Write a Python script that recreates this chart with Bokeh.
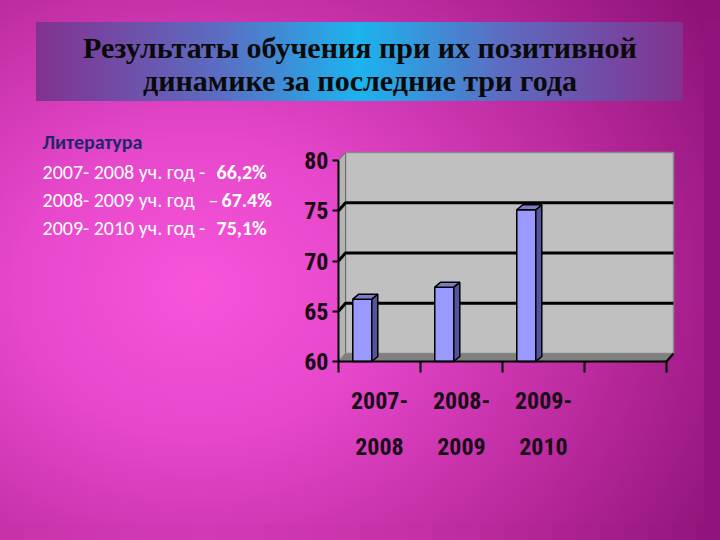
from bokeh.plotting import figure
from bokeh.models import Range1d, LinearAxis, FixedTicker, Label, ColumnDataSource
from bokeh.embed import file_html
from bokeh.resources import INLINE

# ---------------- data ----------------
title_lines = ["Результаты обучения при их позитивной", "динамике за последние три года"]
subject = "Литература"
text_years = ["2007- 2008 уч. год -", "2008- 2009 уч. год", "2009- 2010 уч. год -"]
text_dashes = ["", "–", ""]
text_values = ["66,2%", "67.4%", "75,1%"]
period_line1 = ["2007-", "2008-", "2009-"]
period_line2 = ["2008", "2009", "2010"]
scores = [66.2, 67.4, 75.1]
y_ticks = [60, 65, 70, 75, 80]
grid_levels = [65, 70, 75]
n_slots = 4
y_min, y_max = 60, 80

# ---------------- layout (canvas px) ----------------
W, H = 704, 524
AX_LEFT = 338
AX_BOTTOM = 361
AX_TOP = 160
SLOT = 82.0
DEPTH_PX_X, DEPTH_PX_Y = 7, 8
BAR_DEPTH_PX_X, BAR_DEPTH_PX_Y = 6, 5
PPY = (AX_BOTTOM - AX_TOP) / (y_max - y_min)

def dx(px):
    return (px - AX_LEFT) / SLOT

def dy(py):
    return y_min + (AX_BOTTOM - py) / PPY

x_range = Range1d(dx(0), dx(W))
y_range = Range1d(dy(H), dy(0))

DX = DEPTH_PX_X / SLOT
DY = DEPTH_PX_Y / PPY
BDX = BAR_DEPTH_PX_X / SLOT
BDY = BAR_DEPTH_PX_Y / PPY

# ---------------- background (CSS) ----------------
GC = (0.28, 0.55)
GR = (0.85, 0.95)
GSTOPS = [(0.0, "#f754da"), (0.30, "#e647cb"), (0.68, "#bb2a9e"), (1.0, "#8e1379")]

def grad_color(px, py):
    r = (((px / W - GC[0]) / GR[0]) ** 2 + ((py / H - GC[1]) / GR[1]) ** 2) ** 0.5
    if r >= GSTOPS[-1][0]:
        return GSTOPS[-1][1]
    for (t0, c0), (t1, c1) in zip(GSTOPS[:-1], GSTOPS[1:]):
        if t0 <= r <= t1:
            f = (r - t0) / (t1 - t0)
            a = [int(c0[i:i + 2], 16) for i in (1, 3, 5)]
            b = [int(c1[i:i + 2], 16) for i in (1, 3, 5)]
            return "#" + "".join(f"{round(x + (y - x) * f):02x}" for x, y in zip(a, b))
    return GSTOPS[0][1]

bg_css = (
    "linear-gradient(to right, #83318f 0%, #5c6cc2 28%, #1cb3ee 50%, #5c6cc2 72%, #83318f 100%) "
    "36px 22px / 647px 79px no-repeat, "
    f"radial-gradient(ellipse {GR[0]*100:.0f}% {GR[1]*100:.0f}% at {GC[0]*100:.0f}% {GC[1]*100:.0f}%, "
    + ", ".join(f"{c} {t*100:.0f}%" for t, c in GSTOPS) + ")"
)
STEP = 24
shadows = []
for k in range(0, 720 // STEP + 1):
    shadows.append(f"{(k + 1) * STEP - W}px 20px 0 0 {grad_color(k * STEP + STEP / 2, H + 8)}")
for k in range(0, 540 // STEP + 1):
    shadows.append(f"20px {(k + 1) * STEP - H}px 0 0 {grad_color(W + 8, k * STEP + STEP / 2)}")

p = figure(width=W, height=H, x_range=x_range, y_range=y_range,
           x_axis_type=None, y_axis_type=None,
           output_backend="svg", toolbar_location=None,
           min_border=0,
           styles={"background": bg_css, "box-shadow": ", ".join(shadows)})
p.background_fill_alpha = 0
p.border_fill_alpha = 0
p.outline_line_color = None

# ---------------- 3D chart walls ----------------
p.quad(left=DX, right=n_slots + DX, bottom=y_min + DY, top=y_max + DY,
       fill_color="#c0c0c0", line_color="#8a8a8a", line_width=1.5)
p.patch(x=[0, DX, DX, 0], y=[y_min, y_min + DY, y_max + DY, y_max],
        fill_color="#b4b4b4", line_color="#6a6a6a", line_width=1)
p.patch(x=[0, n_slots, n_slots + DX, DX], y=[y_min, y_min, y_min + DY, y_min + DY],
        fill_color="#808080", line_color=None)
p.line(x=[n_slots, n_slots + DX], y=[y_min, y_min + DY], line_color="black", line_width=2)

gx = [[0, DX, n_slots + DX] for _ in grid_levels]
gy = [[v, v + DY, v + DY] for v in grid_levels]
p.multi_line(xs=gx, ys=gy, line_color="black", line_width=3)

# bars
centers = [i + 0.29 for i in range(len(scores))]
bw = 0.232
src = ColumnDataSource(dict(x=centers, top=scores))
p.vbar(x="x", top="top", bottom=y_min, width=bw, source=src,
       fill_color="#9999ff", line_color="black", line_width=1.5)
side_xs, side_ys, top_xs, top_ys = [], [], [], []
for c, v in zip(centers, scores):
    l, r = c - bw / 2, c + bw / 2
    side_xs.append([r, r + BDX, r + BDX, r])
    side_ys.append([y_min, y_min + BDY, v + BDY, v])
    top_xs.append([l, r, r + BDX, l + BDX])
    top_ys.append([v, v, v + BDY, v + BDY])
p.patches(xs=side_xs, ys=side_ys, fill_color="#54549c", line_color="black", line_width=1.5)
p.patches(xs=top_xs, ys=top_ys, fill_color="#7c7cc8", line_color="black", line_width=1.5)

# ---------------- axes ----------------
AX_FONT = "'Roboto Condensed', 'Liberation Sans', sans-serif"
AX_SIZE = "24px"
LABEL_COLOR = "#1a0a16"

yaxis = LinearAxis(ticker=FixedTicker(ticks=y_ticks), bounds=(y_min, y_max),
                   fixed_location=0,
                   axis_line_color="black", axis_line_width=2,
                   major_tick_out=6, major_tick_in=0, major_tick_line_width=2,
                   major_tick_line_color="black", minor_tick_line_color=None,
                   major_label_text_font=AX_FONT, major_label_text_font_size=AX_SIZE,
                   major_label_text_font_style="bold", major_label_text_color=LABEL_COLOR,
                   major_label_standoff=4)
p.add_layout(yaxis, "left")

mids = [i + 0.5 for i in range(len(period_line1))]
xaxis1 = LinearAxis(ticker=FixedTicker(ticks=mids, minor_ticks=list(range(n_slots + 1))),
                    bounds=(0, n_slots), fixed_location=y_min,
                    major_label_overrides={m: t for m, t in zip(mids, period_line1)},
                    axis_line_color="black", axis_line_width=2,
                    major_tick_line_color=None, major_tick_out=0, major_tick_in=0,
                    minor_tick_out=11, minor_tick_in=0, minor_tick_line_width=2,
                    minor_tick_line_color="black",
                    major_label_text_font=AX_FONT, major_label_text_font_size=AX_SIZE,
                    major_label_text_font_style="bold", major_label_text_color=LABEL_COLOR,
                    major_label_standoff=19)
p.add_layout(xaxis1, "below")

xaxis2 = LinearAxis(ticker=FixedTicker(ticks=mids), bounds=(0, n_slots),
                    fixed_location=y_min,
                    major_label_overrides={m: t for m, t in zip(mids, period_line2)},
                    axis_line_color=None, major_tick_line_color=None,
                    minor_tick_line_color=None, major_tick_out=0, major_tick_in=0,
                    major_label_text_font=AX_FONT, major_label_text_font_size=AX_SIZE,
                    major_label_text_font_style="bold", major_label_text_color=LABEL_COLOR,
                    major_label_standoff=76)
p.add_layout(xaxis2, "below")

# ---------------- texts ----------------
TITLE_CX = 359.5
for i, t in enumerate(title_lines):
    p.add_layout(Label(x=dx(TITLE_CX), y=dy(47 + i * 33), text=t,
                       text_align="center", text_baseline="middle",
                       text_font="Liberation Serif", text_font_style="bold",
                       text_font_size="30px", text_color="#0a0a0a"))

BODY_FONT = "Carlito, Lato, sans-serif"
p.add_layout(Label(x=dx(42), y=dy(141), text=subject,
                   text_align="left", text_baseline="middle",
                   text_font=BODY_FONT, text_font_style="bold",
                   text_font_size="20px", text_color="#1c2668"))
line_y = [171, 199, 227]
val_x = [216, 221, 216]
dash_x = [0, 208, 0]
for yv, yr, dsh, dxp, vx, vt in zip(line_y, text_years, text_dashes, dash_x, val_x, text_values):
    p.add_layout(Label(x=dx(42), y=dy(yv), text=yr,
                       text_align="left", text_baseline="middle",
                       text_font=BODY_FONT, text_font_size="20px", text_color="white"))
    if dsh:
        p.add_layout(Label(x=dx(dxp), y=dy(yv), text=dsh,
                           text_align="left", text_baseline="middle",
                           text_font=BODY_FONT, text_font_size="20px", text_color="white"))
    p.add_layout(Label(x=dx(vx), y=dy(yv), text=vt,
                       text_align="left", text_baseline="middle",
                       text_font=BODY_FONT, text_font_style="bold",
                       text_font_size="20px", text_color="white"))

open("out.html", "w").write(file_html(p, INLINE))
